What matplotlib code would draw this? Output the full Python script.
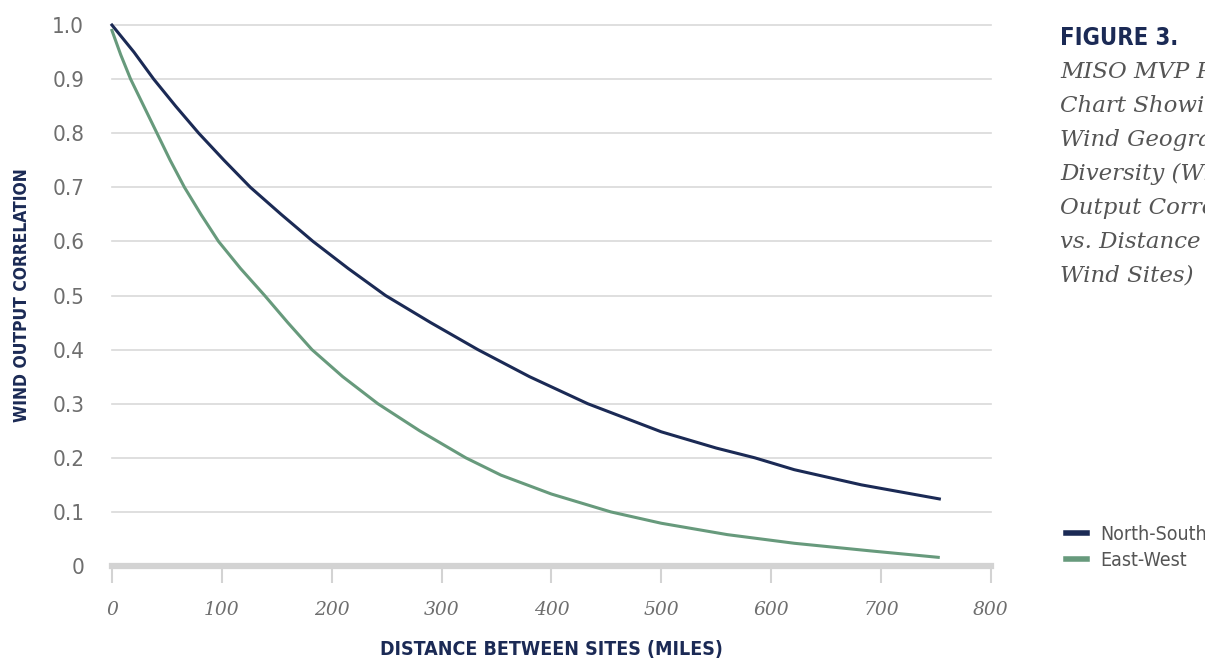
import matplotlib
matplotlib.use("Agg")
import matplotlib.pyplot as plt

# North-South correlation vs distance (miles)
ns_miles = [0, 20, 38, 58, 79, 102, 126, 154, 183, 215, 249, 290, 333, 380, 433,
            500, 550, 585, 621, 682, 753]
ns_corr = [1.0, 0.95, 0.9, 0.85, 0.8, 0.75, 0.7, 0.65, 0.6, 0.55, 0.5, 0.45, 0.4,
           0.35, 0.3, 0.248, 0.218, 0.2, 0.178, 0.15, 0.124]

# East-West correlation vs distance (miles)
ew_miles = [0, 8, 17, 29, 41, 53, 66, 81, 97, 117, 139, 160, 182, 210, 242, 280,
            322, 354, 400, 454, 500, 560, 621, 690, 752]
ew_corr = [0.99, 0.945, 0.9, 0.85, 0.8, 0.75, 0.7, 0.65, 0.6, 0.55, 0.5, 0.45, 0.4,
           0.35, 0.3, 0.25, 0.2, 0.168, 0.133, 0.1, 0.079, 0.058, 0.042, 0.028, 0.016]

x_ticks = [0, 100, 200, 300, 400, 500, 600, 700, 800]
y_ticks = [0, 0.1, 0.2, 0.3, 0.4, 0.5, 0.6, 0.7, 0.8, 0.9, 1.0]
y_labels = ["0", "0.1", "0.2", "0.3", "0.4", "0.5", "0.6", "0.7", "0.8", "0.9", "1.0"]

caption = ["MISO MVP Portfolio", "Chart Showing", "Wind Geographic", "Diversity (Wind",
           "Output Correlation", "vs. Distance Between", "Wind Sites)"]

NAVY = "#1b2a55"
GREEN = "#679a7c"
GREY = "#6e6e6e"
GRID = "#d9d9d9"
COND = dict(family="DejaVu Sans", stretch="condensed")
SERIF = ["DejaVu Serif"]

fig = plt.figure(figsize=(12.05, 6.64), dpi=100)
ax = fig.add_axes([0.0929, 0.1476, 0.7295, 0.8147])

ax.plot(ns_miles, ns_corr, color=NAVY, lw=2.2, label="North-South", clip_on=False,
        zorder=3, solid_joinstyle="round")
ax.plot(ew_miles, ew_corr, color=GREEN, lw=2.2, label="East-West", clip_on=False,
        zorder=3, solid_joinstyle="round")

ax.set_xlim(0, 800)
ax.set_ylim(0, 1.0)
for v in y_ticks[1:]:
    ax.axhline(v, color=GRID, lw=1.2, zorder=1, clip_on=False)

for s in ["top", "right", "left"]:
    ax.spines[s].set_visible(False)
ax.spines["bottom"].set_color("#d3d3d3")
ax.spines["bottom"].set_linewidth(4.5)

ax.set_xticks(x_ticks)
ax.set_xticklabels([str(t) for t in x_ticks], family=SERIF, style="italic",
                   fontsize=13.5, color=GREY)
ax.tick_params(axis="x", length=12, width=1.5, color="#d3d3d3", pad=13)
ax.set_yticks(y_ticks)
ax.set_yticklabels(y_labels, fontsize=16, color=GREY, **COND)
ax.tick_params(axis="y", length=0, pad=20)

fig.text(22 / 1205, 1 - 295 / 664, "WIND OUTPUT CORRELATION", fontweight="bold",
         fontsize=12.5, color=NAVY, rotation=90, ha="center", va="center", **COND)
fig.text(551 / 1205, 1 - 650 / 664, "DISTANCE BETWEEN SITES (MILES)", fontweight="bold",
         fontsize=14, color=NAVY, ha="center", va="center", **COND)

fig.text(1060 / 1205, 1 - 45 / 664, "FIGURE 3.", fontweight="bold",
         fontsize=17, color=NAVY, va="baseline", **COND)
for i, line in enumerate(caption):
    fig.text(1060 / 1205, 1 - (78 + i * 34) / 664, line, family=SERIF, style="italic",
             fontsize=16.5, color="#555555", va="baseline")

leg = fig.legend(loc="upper left", bbox_to_anchor=(1048 / 1205, 1 - 507 / 664),
                 frameon=False, handlelength=1.1, handletextpad=0.7, labelspacing=0.38,
                 prop=dict(size=14, **COND))
for h in leg.get_lines():
    h.set_linewidth(4)
for t in leg.get_texts():
    t.set_color("#555555")

fig.savefig("out.png", dpi=100)
